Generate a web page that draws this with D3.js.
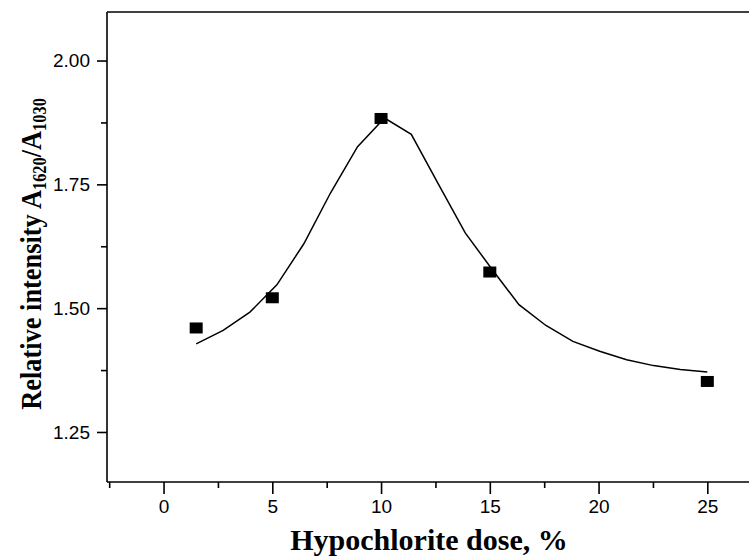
<!DOCTYPE html>
<html>
<head>
<meta charset="utf-8">
<script src="https://cdn.jsdelivr.net/npm/d3@7"></script>
<style>
  body { margin: 0; background: #fff; }
  svg { display: block; }
</style>
</head>
<body>
<svg id="chart" width="749" height="559"></svg>
<script>
// measured points
var doseX = [1.5, 5, 10, 15, 25];
var ratioY = [1.460, 1.521, 1.883, 1.573, 1.352];

// fitted curve
var fitX = [1.5, 2.74, 3.97, 5.21, 6.45, 7.68, 8.92, 10.16, 11.39, 12.63,
            13.87, 15.11, 16.34, 17.58, 18.82, 20.05, 21.29, 22.53, 23.76, 25.0];
var fitY = [1.428, 1.455, 1.492, 1.547, 1.630, 1.733, 1.826, 1.884, 1.851, 1.751,
            1.652, 1.578, 1.507, 1.465, 1.433, 1.413, 1.396, 1.384, 1.376, 1.371];

var xMajor = [0, 5, 10, 15, 20, 25];
var xMinor = [-2.5, 2.5, 7.5, 12.5, 17.5, 22.5];
var yMajor = [1.25, 1.50, 1.75, 2.00];
var yMinor = [1.375, 1.625, 1.875];

var svg = d3.select("#chart");

var x = d3.scaleLinear().domain([-2.6, 27.5]).range([107, 761.7]);
var y = d3.scaleLinear().domain([1.149, 2.098]).range([482, 12]);

var axisFont = "'Liberation Sans', Arial, sans-serif";
var titleFont = "'Liberation Serif', 'Times New Roman', serif";

// frame (top + left + bottom, right edge is cut off)
svg.append("line")
  .attr("x1", 107).attr("x2", 749).attr("y1", y(2.098)).attr("y2", y(2.098))
  .attr("stroke", "#000").attr("stroke-width", 1.6);

// x axis
var xAxis = d3.axisBottom(x).tickValues(xMajor).tickSize(12).tickPadding(6)
  .tickFormat(d3.format("d"));
var gx = svg.append("g").attr("transform", "translate(0," + y(1.149) + ")").call(xAxis);
gx.selectAll(".tick line").attr("stroke-width", 1.6);
gx.select(".domain").attr("d", "M107,0H749").attr("stroke-width", 1.6);
gx.selectAll("text").attr("font-family", axisFont).attr("font-size", 19).attr("fill", "#000");
var gxm = svg.append("g").attr("transform", "translate(0," + y(1.149) + ")")
  .call(d3.axisBottom(x).tickValues(xMinor).tickSize(6).tickFormat(""));
gxm.select(".domain").remove();
gxm.selectAll(".tick line").attr("stroke-width", 1.6);

// y axis
var yAxis = d3.axisLeft(y).tickValues(yMajor).tickSize(10).tickPadding(7)
  .tickFormat(d3.format(".2f"));
var gy = svg.append("g").attr("transform", "translate(107,0)").call(yAxis);
gy.select(".domain").attr("d", "M0,12V482").attr("stroke-width", 1.6);
gy.selectAll(".tick line").attr("stroke-width", 1.6);
gy.selectAll("text").attr("font-family", axisFont).attr("font-size", 19).attr("fill", "#000");
var gym = svg.append("g").attr("transform", "translate(107,0)")
  .call(d3.axisLeft(y).tickValues(yMinor).tickSize(6).tickFormat(""));
gym.select(".domain").remove();
gym.selectAll(".tick line").attr("stroke-width", 1.6);

// fitted curve
var fit = fitX.map(function(d, i) { return [d, fitY[i]]; });
svg.append("path")
  .datum(fit)
  .attr("fill", "none")
  .attr("stroke", "#000")
  .attr("stroke-width", 1.5)
  .attr("d", d3.line().x(function(d) { return x(d[0]); }).y(function(d) { return y(d[1]); }));

// square markers
svg.selectAll(".pt")
  .data(doseX)
  .enter().append("rect")
    .attr("class", "pt")
    .attr("x", function(d) { return x(d) - 6.5; })
    .attr("y", function(d, i) { return y(ratioY[i]) - 5.5; })
    .attr("width", 13)
    .attr("height", 11)
    .attr("fill", "#000");

// axis titles
svg.append("text")
  .attr("x", 429).attr("y", 550)
  .attr("text-anchor", "middle")
  .attr("font-family", titleFont).attr("font-weight", "bold").attr("font-size", 30)
  .text("Hypochlorite dose, %");

// y title is a bit condensed in the original
var yt = svg.append("text")
  .attr("transform", "translate(41,254) rotate(-90) scale(0.91,1)")
  .attr("text-anchor", "middle")
  .attr("font-family", titleFont).attr("font-weight", "bold").attr("font-size", 29);
yt.append("tspan").text("Relative intensity A");
yt.append("tspan").attr("font-size", 18).attr("dy", 5).text("1620");
yt.append("tspan").attr("dy", -5).text("/A");
yt.append("tspan").attr("font-size", 18).attr("dy", 5).text("1030");
</script>
</body>
</html>
